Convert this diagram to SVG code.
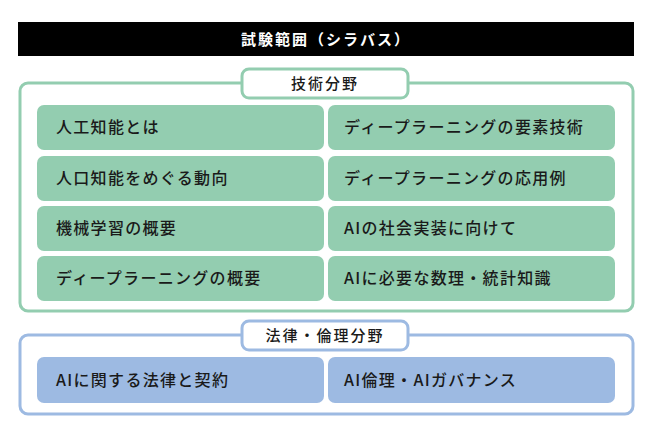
<svg xmlns="http://www.w3.org/2000/svg" width="652" height="435" viewBox="0 0 652 435">
<style>
text{font-family:"Noto Sans CJK JP","Noto Sans",sans-serif;font-size:16px;fill:#1a1a1a;font-weight:500;letter-spacing:1.3px}
.g{fill:#93cdb0}.b{fill:#9dbae2}
.fg{fill:#fff;stroke:#93cdb0;stroke-width:3}
.fb{fill:#fff;stroke:#9dbae2;stroke-width:3}
.lab{text-anchor:middle;letter-spacing:2px;font-size:15px}
</style>
<rect width="652" height="435" fill="#fff"/>
<g id="title"><rect x="18" y="22" width="616" height="34" fill="#000"/><text x="326" y="45" class="lab" style="fill:#fff;font-weight:700">試験範囲（シラバス）</text></g>
<g id="tech">
<rect class="fg" x="20" y="83" width="613" height="228" rx="8"/>
<rect class="fg" x="242" y="69" width="166" height="29" rx="7"/>
<text class="lab" x="325" y="89">技術分野</text>
</g>
<g id="t1"><rect class="g" x="37" y="105" width="287" height="45" rx="7"/><text x="56" y="133">人工知能とは</text></g>
<g id="t2"><rect class="g" x="328" y="105" width="287" height="45" rx="7"/><text x="344" y="133">ディープラーニングの要素技術</text></g>
<g id="t3"><rect class="g" x="37" y="156" width="287" height="45" rx="7"/><text x="56" y="184">人口知能をめぐる動向</text></g>
<g id="t4"><rect class="g" x="328" y="156" width="287" height="45" rx="7"/><text x="344" y="184">ディープラーニングの応用例</text></g>
<g id="t5"><rect class="g" x="37" y="206" width="287" height="45" rx="7"/><text x="56" y="234">機械学習の概要</text></g>
<g id="t6"><rect class="g" x="328" y="206" width="287" height="45" rx="7"/><text x="344" y="234">AIの社会実装に向けて</text></g>
<g id="t7"><rect class="g" x="37" y="256" width="287" height="45" rx="7"/><text x="56" y="284">ディープラーニングの概要</text></g>
<g id="t8"><rect class="g" x="328" y="256" width="287" height="45" rx="7"/><text x="344" y="284">AIに必要な数理・統計知識</text></g>
<g id="law">
<rect class="fb" x="20" y="335" width="613" height="79" rx="8"/>
<rect class="fb" x="242" y="321" width="166" height="29" rx="7"/>
<text class="lab" x="325" y="341">法律・倫理分野</text>
</g>
<g id="l1"><rect class="b" x="37" y="357" width="287" height="46" rx="7"/><text x="56" y="386">AIに関する法律と契約</text></g>
<g id="l2"><rect class="b" x="328" y="357" width="287" height="46" rx="7"/><text x="344" y="386">AI倫理・AIガバナンス</text></g>
<g id="connectors"/>
</svg>
